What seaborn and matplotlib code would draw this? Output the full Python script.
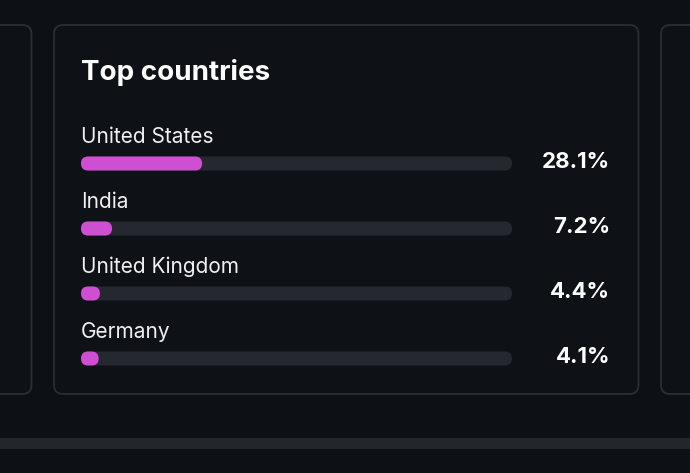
import matplotlib
matplotlib.use("Agg")
import matplotlib.pyplot as plt
from matplotlib.patches import FancyBboxPatch, Rectangle
import seaborn as sns
import pandas as pd

# ---- data ----
title = "Top countries"
countries = ["United States", "India", "United Kingdom", "Germany"]
shares = [28.1, 7.2, 4.4, 4.1]
share_labels = ["28.1%", "7.2%", "4.4%", "4.1%"]
scale_max = 100.0

# ---- style ----
BG = "#0d1015"
CARD = "#0e1116"
BORDER = "#2a2e35"
TRACK = "#25282e"
PINK = "#cf4fd3"
TEXT = "#eef0f3"
FONT = ["Inter", "DejaVu Sans"]

sns.set_theme(style="dark")
plt.rcParams["font.family"] = FONT

W, H, DPI = 690, 473, 100
fig = plt.figure(figsize=(W / DPI, H / DPI), dpi=DPI, facecolor=BG)

# background axes in pixel coordinates
bg = fig.add_axes([0, 0, 1, 1])
bg.set_xlim(0, W)
bg.set_ylim(H, 0)
bg.axis("off")
bg.set_facecolor(BG)

def card(x0, y0, x1, y1):
    bg.add_patch(FancyBboxPatch((x0, y0), x1 - x0, y1 - y0,
                                boxstyle="round,pad=0,rounding_size=9",
                                fc=CARD, ec=BORDER, lw=1.3))

card(-60, 25, 31.5, 394)
card(54, 25, 638.5, 394)
card(661, 25, 760, 394)
bg.add_patch(Rectangle((0, 438), W, 11, fc="#23262c", ec="none"))

bg.text(81, 80, title, fontsize=20, fontweight="bold", color="white",
        va="baseline", ha="left")

# bars axes
left_px, right_px = 81, 512
first_c, step = 163.5, 65.0
n = len(countries)
top_px = first_c - step / 2
bot_px = first_c + step * (n - 1) + step / 2
ax = fig.add_axes([left_px / W, 1 - bot_px / H, (right_px - left_px) / W,
                   (bot_px - top_px) / H])
ax.set_facecolor("none")

df = pd.DataFrame({"country": countries, "share": shares,
                   "track": [scale_max] * n})
bar_h = 14 / step
sns.barplot(data=df, x="track", y="country", color=TRACK, width=bar_h,
            ax=ax, saturation=1)
sns.barplot(data=df, x="share", y="country", color=PINK, width=bar_h,
            ax=ax, saturation=1)
ax.set_xlim(0, scale_max)
ax.set_ylim(n - 0.5, -0.5)
ax.axis("off")

# round the bar ends
fig.canvas.draw()
px_per_x = (right_px - left_px) / scale_max
px_per_y = step
aspect = px_per_x / px_per_y
patches = list(ax.patches)
for p in patches:
    x, y, w, h = p.get_x(), p.get_y(), p.get_width(), p.get_height()
    fc = p.get_facecolor()
    p.remove()
    r_px = min(7.0, w * px_per_x / 2)
    ax.add_patch(FancyBboxPatch((x, y), w, h,
                                boxstyle=f"round,pad=0,rounding_size={r_px / px_per_x}",
                                mutation_aspect=aspect, fc=fc, ec="none"))

PT = 72 / DPI
for i, (c, lab) in enumerate(zip(countries, share_labels)):
    ax.annotate(c, xy=(0, i), xytext=(0, 20.5 * PT), textcoords="offset points",
                ha="left", va="baseline", fontsize=15, color=TEXT,
                annotation_clip=False)
    ax.annotate(lab, xy=(scale_max, i), xytext=((610 - right_px) * PT, -4.5 * PT),
                textcoords="offset points", ha="right", va="baseline",
                fontsize=16, fontweight="bold", color="white",
                annotation_clip=False)

fig.savefig("out.png", dpi=DPI, facecolor=BG)
